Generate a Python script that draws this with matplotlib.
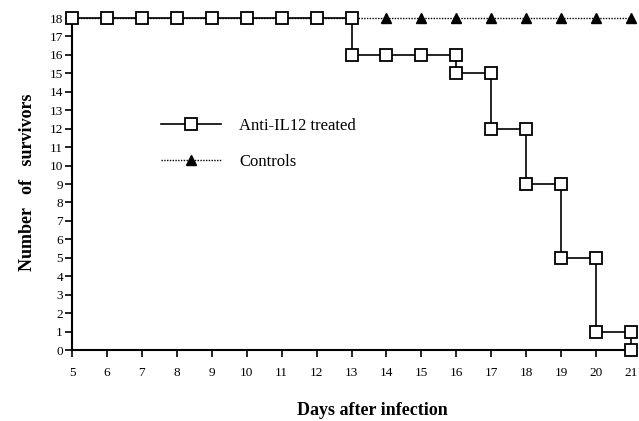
"""Survival of infected mice: anti-IL12 treated vs controls."""

import matplotlib
matplotlib.use("Agg")
import matplotlib.pyplot as plt
from matplotlib.lines import Line2D

SERIF = ["Liberation Serif", "DejaVu Serif"]

# anti-IL12 treated: step curve, one point per observation
treated_days = [5, 6, 7, 8, 9, 10, 11, 12, 13, 13, 14, 15, 16, 16, 17, 17, 18, 18, 19, 19, 20, 20, 21, 21]
treated_surv = [18, 18, 18, 18, 18, 18, 18, 18, 18, 16, 16, 16, 16, 15, 15, 12, 12, 9, 9, 5, 5, 1, 1, 0]

control_days = [5, 6, 7, 8, 9, 10, 11, 12, 13, 14, 15, 16, 17, 18, 19, 20, 21]
control_surv = [18] * 17

x_ticks = list(range(5, 22))
y_ticks = list(range(0, 19))


def main() -> None:
    plt.rcParams["font.family"] = SERIF
    fig = plt.figure(figsize=(6.39, 4.21), dpi=100)
    ax = fig.add_axes([0.1127, 0.1686, 0.8748, 0.7886])

    ax.plot(control_days, control_surv, color="black", linestyle=(0, (1, 1)), linewidth=1.0,
            marker="^", markersize=7.5, markerfacecolor="black", markeredgecolor="black",
            clip_on=False, zorder=2)
    ax.plot(treated_days, treated_surv, color="black", linewidth=1.2,
            marker="s", markersize=8, markerfacecolor="white", markeredgecolor="black",
            markeredgewidth=1.3, clip_on=False, zorder=3)

    ax.set_xlim(5, 21)
    ax.set_ylim(0, 18)
    ax.set_xticks(x_ticks)
    ax.set_yticks(y_ticks)
    ax.tick_params(direction="out", length=5, width=1.2, labelsize=9.5)
    ax.tick_params(axis="x", pad=7)
    ax.tick_params(axis="y", pad=1.5)
    for side in ("top", "right"):
        ax.spines[side].set_visible(False)
    for side in ("left", "bottom"):
        ax.spines[side].set_linewidth(1.5)

    ax.set_xlabel("Days after infection", fontsize=13, fontweight="bold")
    ax.set_ylabel("Number   of   survivors", fontsize=13, fontweight="bold")
    ax.xaxis.set_label_coords(0.537, -0.158)
    ax.yaxis.set_label_coords(-0.065, 0.506)

    handles = [
        Line2D([], [], color="black", linewidth=1.2, marker="s", markersize=8,
               markerfacecolor="white", markeredgecolor="black", markeredgewidth=1.3),
        Line2D([], [], color="black", linestyle=(0, (1, 1)), linewidth=1.0, marker="^",
               markersize=7.5, markerfacecolor="black"),
    ]
    ax.legend(handles, ["Anti-IL12 treated", "Controls"], loc="upper left",
              bbox_to_anchor=(0.16, 0.698), frameon=False, fontsize=12, borderpad=0,
              borderaxespad=0, handlelength=3.6, handletextpad=1.05, labelspacing=1.16,
              numpoints=1)

    fig.savefig("out.png", dpi=100)


if __name__ == "__main__":
    main()
